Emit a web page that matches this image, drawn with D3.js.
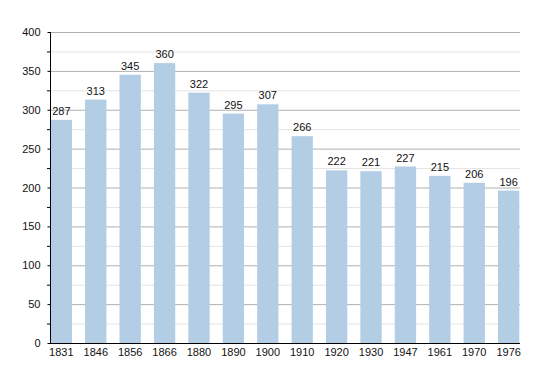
<!DOCTYPE html>
<html>
<head>
<meta charset="utf-8">
<script src="https://cdn.jsdelivr.net/npm/d3@7"></script>
<style>
  body { margin: 0; background: #fff; }
  text { font-family: "Liberation Sans", Arial, sans-serif; font-size: 11px; fill: #111; }
</style>
</head>
<body>
<svg id="canvas" width="550" height="373"></svg>
<script>
let years = ['1831', '1846', '1856', '1866', '1880', '1890', '1900', '1910', '1920', '1930', '1947', '1961', '1970', '1976']
let population = [287, 313, 345, 360, 322, 295, 307, 266, 222, 221, 227, 215, 206, 196]
let yTicks = [0, 50, 100, 150, 200, 250, 300, 350, 400]
let yMinor = [25, 75, 125, 175, 225, 275, 325, 375]

let svg = d3.select('#canvas')

let plotLeft = 50, plotRight = 520, plotTop = 32, plotBottom = 343

let x = d3.scaleBand()
    .domain(years)
    .range([plotLeft, plotRight])
    .paddingInner(0.38)
    .paddingOuter(0.02)

let y = d3.scaleLinear()
    .domain([0, 400])
    .range([plotBottom, plotTop])

// minor gridlines
svg.selectAll('.minor')
    .data(yMinor)
    .enter()
    .append('line')
    .attr('x1', plotLeft)
    .attr('x2', plotRight)
    .attr('y1', d => y(d) + 0.5)
    .attr('y2', d => y(d) + 0.5)
    .attr('stroke', '#e4e4e4')

// major gridlines
svg.selectAll('.major')
    .data(yTicks.filter(d => d > 0))
    .enter()
    .append('line')
    .attr('x1', plotLeft)
    .attr('x2', plotRight)
    .attr('y1', d => y(d) + 0.5)
    .attr('y2', d => y(d) + 0.5)
    .attr('stroke', '#b0b0b0')

// bars
svg.selectAll('rect')
    .data(population)
    .enter()
    .append('rect')
    .attr('x', (d, i) => x(years[i]))
    .attr('y', d => y(d))
    .attr('width', x.bandwidth())
    .attr('height', d => plotBottom - y(d))
    .attr('fill', '#b3cde5')

// value labels
svg.selectAll('.val')
    .data(population)
    .enter()
    .append('text')
    .attr('x', (d, i) => x(years[i]) + x.bandwidth() / 2)
    .attr('y', d => y(d) - 5)
    .attr('text-anchor', 'middle')
    .text(d => d)

// y axis
let yAxis = d3.axisLeft(y).tickValues(yTicks).tickSize(3).tickPadding(7)
let gy = svg.append('g')
    .attr('transform', 'translate(' + (plotLeft + 0.5) + ',0)')
    .call(yAxis)
gy.select('.domain').remove()
gy.selectAll('.tick line').attr('stroke', '#000')
gy.selectAll('text').style('font-size', '11px').attr('fill', '#111')

// minor ticks
svg.selectAll('.mtick')
    .data(yMinor)
    .enter()
    .append('line')
    .attr('x1', plotLeft - 3)
    .attr('x2', plotLeft)
    .attr('y1', d => y(d) + 0.5)
    .attr('y2', d => y(d) + 0.5)
    .attr('stroke', '#000')

svg.append('line')
    .attr('x1', plotLeft + 0.5)
    .attr('x2', plotLeft + 0.5)
    .attr('y1', plotTop)
    .attr('y2', plotBottom + 1)
    .attr('stroke', '#000')

// x axis
let xAxis = d3.axisBottom(x).tickSize(0).tickPadding(5)
let gx = svg.append('g')
    .attr('transform', 'translate(0,' + (plotBottom + 0.5) + ')')
    .call(xAxis)
gx.select('.domain').remove()
gx.selectAll('text').style('font-size', '11px').attr('fill', '#111')

svg.append('line')
    .attr('x1', plotLeft)
    .attr('x2', plotRight)
    .attr('y1', plotBottom + 0.5)
    .attr('y2', plotBottom + 0.5)
    .attr('stroke', '#000')
</script>
</body>
</html>
